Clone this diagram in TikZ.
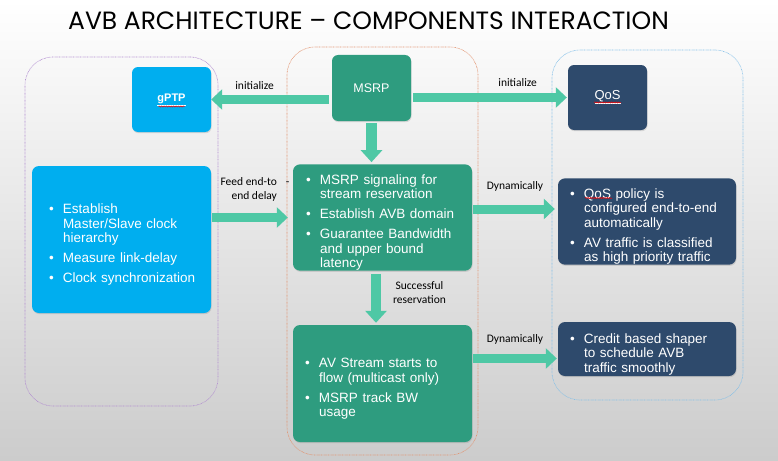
\documentclass[tikz,border=0pt]{standalone}
\usepackage{fontspec}
\setmainfont{Liberation Sans}
\newfontfamily\labelfont{Carlito}
\newfontfamily\titlefont{Poppins}
\usetikzlibrary{
    arrows.meta,
    positioning,
    shadows,
    decorations.pathmorphing
}
\definecolor{ptpblue}{RGB}{0,174,239}
\definecolor{srpgreen}{RGB}{46,156,127}
\definecolor{qosnavy}{RGB}{46,74,108}
\definecolor{flowmint}{RGB}{78,200,165}
\definecolor{zoneviolet}{RGB}{176,138,208}
\definecolor{zoneorange}{RGB}{226,146,110}
\definecolor{zonesky}{RGB}{128,190,232}
\newlength{\bulpad}
\newcommand{\bul}[1]{\par\leftskip=\bulpad\hangindent=14pt\hangafter=1\noindent\makebox[14pt][l]{\textbullet}#1\par}
\hfuzz=30pt
\hyphenpenalty=10000

\begin{document}
\begin{tikzpicture}[x=1pt, y=-1pt,
    zone/.style={rounded corners=28pt, dash pattern=on 0.7pt off 0.7pt, line width=0.6pt},
    card/.style={rounded corners=7pt, text=white, inner sep=0pt, align=left,
        font={\fontsize{13.5}{14.5}\selectfont\setlength{\parskip}{5.5pt}\setlength{\bulpad}{#1}},
        drop shadow={opacity=0.25, shadow xshift=0.6pt, shadow yshift=-1.2pt}},
    card/.default=12pt,
    head/.style={rounded corners=6pt, text=white, inner sep=0pt, minimum width=79pt, minimum height=65pt,
        drop shadow={opacity=0.25, shadow xshift=0.6pt, shadow yshift=-1.2pt}},
    flow/.style={draw=flowmint, line width=9pt, -{Triangle[length=11pt, width=20pt]}},
    lbl/.style={font=\labelfont\fontsize{11.5}{13.5}\selectfont, inner sep=0pt},
    spell/.style={draw=red, line width=0.5pt, decorate, decoration={snake, amplitude=0.6pt, segment length=2.4pt}}
]
    % background
    \shade[top color=white, bottom color=black!20] (0,0) rectangle (778,460);
    \useasboundingbox (0,0) rectangle (778,460);

    \node[font=\titlefont\fontsize{25}{25}\selectfont] (title) at (368.5,21) {AVB ARCHITECTURE – COMPONENTS INTERACTION};

    % groups
    \node[zone, draw=zoneviolet, minimum width=193pt, minimum height=349pt] (ptpzone) at (121.5,231.5) {};
    \node[zone, draw=zoneorange, minimum width=191pt, minimum height=408pt] (srpzone) at (382.5,251) {};
    \node[zone, draw=zonesky, minimum width=191pt, minimum height=350pt] (qoszone) at (647.5,225) {};

    % gPTP side
    \node[head, fill=ptpblue, font=\bfseries\fontsize{11}{13}\selectfont] (gptp) at (171.5,99.5) {\underline{gPTP}};
    \node[card=17pt, fill=ptpblue, minimum width=179pt, minimum height=147pt, text width=179pt] (sync) at (121.5,239.5)
        {\bul{Establish\newline Master/Slave clock\newline hierarchy}\bul{Measure link-delay}\bul{Clock synchronization}};

    % MSRP side
    \node[head, fill=srpgreen, minimum height=66pt, font=\fontsize{12.5}{14}\selectfont] (msrp) at (371.5,88) {MSRP};
    \node[card=13pt, fill=srpgreen, minimum width=179pt, minimum height=105pt, text width=179pt] (srp1) at (382.5,217.5)
        {\bul{MSRP signaling for\newline stream reservation}\bul{Establish AVB domain}\bul{Guarantee Bandwidth\newline and upper bound\newline latency}};
    \node[card=12pt, fill=srpgreen, minimum width=179pt, minimum height=117pt, text width=179pt] (srp2) at (382.5,383.5)
        {\bul{AV Stream starts to\newline flow (multicast only)}\bul{MSRP track BW\newline usage}};

    % QoS side
    \node[head, fill=qosnavy, font=\fontsize{13}{15}\selectfont] (qos) at (607.5,97.5) {\underline{QoS}};
    \node[card=12pt, fill=qosnavy, minimum width=178pt, minimum height=85pt, text width=178pt] (qos2) at (647,221.5)
        {\bul{QoS policy is\newline configured end-to-end\newline automatically}\bul{AV traffic is classified\newline as high priority traffic}};
    \node[card=12pt, fill=qosnavy, minimum width=178pt, minimum height=54pt, text width=178pt] (qos3) at (647,349)
        {\bul{Credit based shaper\newline to schedule AVB\newline traffic smoothly}};

    % spelling marks
    \draw[spell] ([xshift=-13pt, yshift=-7pt]gptp.center) -- ([xshift=13pt, yshift=-7pt]gptp.center);
    \draw[spell] ([xshift=-13.5pt, yshift=-5pt]qos.center) -- ([xshift=13.5pt, yshift=-5pt]qos.center);
    \draw[spell] ([xshift=-62pt, yshift=23.5pt]qos2.center) -- ([xshift=-35pt, yshift=23.5pt]qos2.center);

    \coordinate (tap1) at ([yshift=8.5pt]srp1.east);
    \coordinate (tap2) at ([yshift=25pt]srp2.east);

    % connectors
    \draw[flow, shorten <=3pt] (msrp.west |- gptp.east) -- node[lbl, above=5pt, pos=0.64] {initialize} (gptp.east);
    \draw[flow, shorten <=2pt, shorten >=1pt] (msrp.east |- qos.west) -- node[lbl, above=6pt, pos=0.68] {initialize} (qos.west);
    \draw[flow, line width=11pt, -{Triangle[length=12pt, width=21pt]}, shorten <=2pt, shorten >=2pt] (msrp.south) -- (msrp.south |- srp1.north);
    \draw[flow, shorten <=1pt, shorten >=5pt] (sync.east |- srp1.west) -- node[lbl, align=right, above=12pt, pos=0.46] {Feed end-to\rlap{\hspace{9pt}-}\\end delay} (srp1.west);
    \draw[flow, shorten <=1pt, shorten >=3pt] (tap1) -- node[lbl, above=13pt] {Dynamically} (tap1 -| qos2.west);
    \draw[flow, line width=10pt, -{Triangle[length=12pt, width=21pt]}, shorten <=3pt, shorten >=2pt] ([xshift=-6.5pt]srp1.south) -- node[lbl, align=center, right=12pt, pos=0.4] {Successful\\reservation} ([xshift=-6.5pt]srp2.north);
    \draw[flow, shorten <=1pt, shorten >=1pt] (tap2) -- node[lbl, above=10pt] {Dynamically} (tap2 -| qos3.west);
\end{tikzpicture}
\end{document}
